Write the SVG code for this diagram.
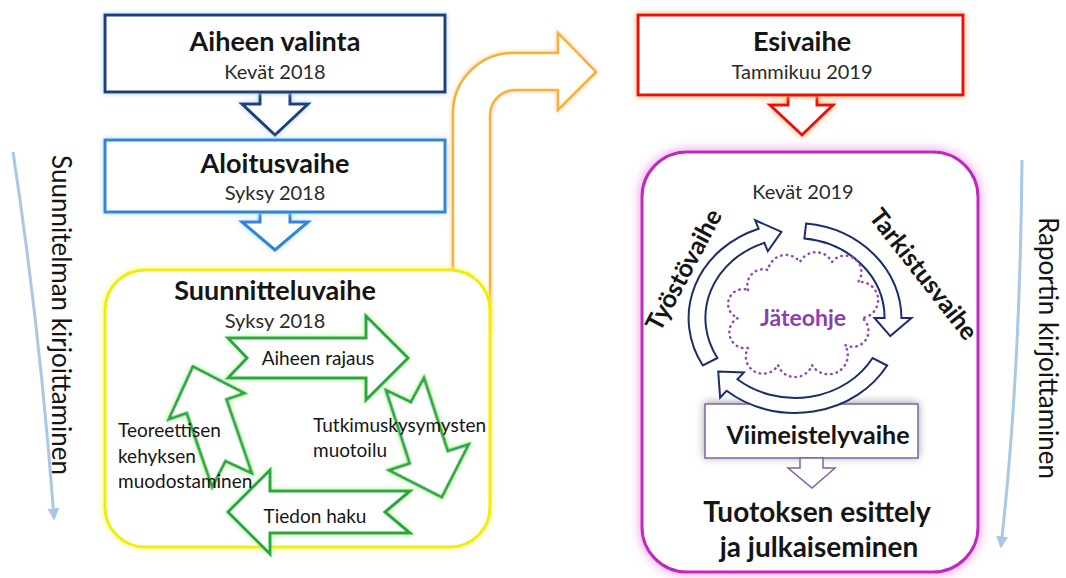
<svg xmlns="http://www.w3.org/2000/svg" width="1066" height="578" viewBox="0 0 1066 578">
<defs>
<style>
text{font-family:Lato,"Liberation Sans",sans-serif;fill:#151515}
.h{font-weight:bold;font-size:27px;text-anchor:middle}
.s{font-size:20px;text-anchor:middle;fill:#2a2a2a}
.g{font-size:19px}
.side{font-size:26px;text-anchor:middle}
.box{fill:#fff;stroke-width:3}
.garr{fill:#fff;stroke:#25a83c;stroke-width:3;stroke-linejoin:miter;filter:url(#glG)}
.carr{fill:#fff;stroke:#1c2d6b;stroke-width:2;vector-effect:non-scaling-stroke}
.blue{fill:none;stroke:#a9c8e6;stroke-width:3}
</style>
<filter id="glNavy" x="-20%" y="-30%" width="140%" height="160%"><feDropShadow dx="0" dy="0" stdDeviation="2.5" flood-color="#a8d0f4" flood-opacity="1"/></filter>
<filter id="glBlue" x="-20%" y="-30%" width="140%" height="160%"><feDropShadow dx="0" dy="0" stdDeviation="2.5" flood-color="#b0d8f8" flood-opacity="1"/></filter>
<filter id="glY" x="-20%" y="-20%" width="140%" height="140%"><feDropShadow dx="0" dy="0" stdDeviation="3" flood-color="#f6f27a" flood-opacity="1"/></filter>
<filter id="glG" x="-30%" y="-30%" width="160%" height="160%"><feDropShadow dx="0" dy="0" stdDeviation="2.5" flood-color="#aef29a" flood-opacity="1"/></filter>
<filter id="glO" x="-30%" y="-20%" width="160%" height="140%"><feDropShadow dx="0" dy="0" stdDeviation="2" flood-color="#f9c2a8" flood-opacity="1"/></filter>
<filter id="glR" x="-20%" y="-30%" width="140%" height="160%"><feDropShadow dx="0" dy="0" stdDeviation="3" flood-color="#f8b070" flood-opacity="1"/></filter>
<filter id="glM" x="-20%" y="-20%" width="140%" height="140%"><feDropShadow dx="0" dy="0" stdDeviation="6" flood-color="#ec8ee4" flood-opacity="1"/></filter>
<filter id="shG" x="-20%" y="-40%" width="140%" height="180%"><feDropShadow dx="0" dy="-1" stdDeviation="4" flood-color="#888" flood-opacity="0.8"/></filter>
<marker id="bh" viewBox="0 0 10 10" refX="8" refY="5" markerWidth="4" markerHeight="4" orient="auto"><path d="M0 0 L10 5 L0 10 Z" fill="#a9c8e6"/></marker>
</defs>

<g id="side-arrows">
<path class="blue" d="M13 152 Q 40 330 54 518" marker-end="url(#bh)"/>
<path class="blue" d="M1022 160 Q 1020 380 1001 546" marker-end="url(#bh)"/>
</g>
<text class="side" transform="translate(52,315) rotate(90)">Suunnitelman kirjoittaminen</text>
<text class="side" transform="translate(1039,348) rotate(90)">Raportin kirjoittaminen</text>

<g id="connectors">
<path id="orange-arrow" d="M453 330 L453 113 A60 60 0 0 1 513 53 L558 53 L558 33 L596 72 L558 110 L558 90 L515 90 A25 25 0 0 0 490 115 L490 330 Z" fill="#fff" stroke="#f6b232" stroke-width="2.5" filter="url(#glO)"/>
<polygon points="260,92 290,92 290,104 308,104 275,135 242,104 260,104" fill="#fff" stroke="#1f3f7a" stroke-width="3" filter="url(#glNavy)"/>
<polygon points="260,212 290,212 290,222 308,222 275,250 242,222 260,222" fill="#fff" stroke="#2e86d6" stroke-width="3" filter="url(#glBlue)"/>
<polygon points="788,95 817,95 817,105 833,105 802,135 770,105 788,105" fill="#fff" stroke="#ee1111" stroke-width="3" filter="url(#glR)"/>
</g>

<g id="aiheen-valinta">
<rect class="box" x="105" y="15" width="340" height="77" stroke="#1f3f7a" filter="url(#glNavy)"/>
<text class="h" x="275" y="51">Aiheen valinta</text>
<text class="s" x="275" y="79">Kevät 2018</text>
</g>

<g id="aloitusvaihe">
<rect class="box" x="105" y="140" width="340" height="72" stroke="#2e86d6" filter="url(#glBlue)"/>
<text class="h" x="275" y="173">Aloitusvaihe</text>
<text class="s" x="275" y="200">Syksy 2018</text>
</g>

<g id="suunnitteluvaihe">
<rect class="box" x="105" y="270" width="385" height="277" rx="40" stroke="#f2ee00" filter="url(#glY)"/>
<text class="h" x="275" y="300">Suunnitteluvaihe</text>
<text class="s" x="275" y="328">Syksy 2018</text>
</g>

<g id="aiheen-rajaus">
<polygon class="garr" transform="translate(228,358)" points="0,-20 138,-20 138,-42 180,0 138,42 138,20 0,20 19,0"/>
<text class="g" x="318" y="365" text-anchor="middle">Aiheen rajaus</text>
</g>
<g id="tutkimuskysymysten">
<polygon class="garr" transform="translate(405,384) rotate(72)" points="0,-20 77,-20 77,-42 119,0 77,42 77,20 0,20 19,0"/>
<text class="g" x="313" y="432">Tutkimuskysymysten</text>
<text class="g" x="313" y="457">muotoilu</text>
</g>
<g id="tiedon-haku">
<polygon class="garr" transform="translate(410,512) rotate(180)" points="0,-21 140,-21 140,-42 182,0 140,42 140,21 0,21 25,0"/>
<text class="g" x="315" y="523" text-anchor="middle">Tiedon haku</text>
</g>
<g id="teoreettisen">
<polygon class="garr" transform="translate(232,480) rotate(-109)" points="0,-21 78,-21 78,-40 120,0 78,40 78,21 0,21 20,0"/>
<text class="g" x="118" y="437">Teoreettisen</text>
<text class="g" x="118" y="463">kehyksen</text>
<text class="g" x="118" y="488">muodostaminen</text>
</g>

<g id="esivaihe">
<rect class="box" x="638" y="15" width="325" height="80" stroke="#ee1111" filter="url(#glR)"/>
<text class="h" x="802" y="51">Esivaihe</text>
<text class="s" x="802" y="79">Tammikuu 2019</text>
</g>

<g id="kevat-2019">
<rect class="box" x="642" y="152" width="336" height="420" rx="45" stroke="#c026c0" filter="url(#glM)"/>
<text class="s" x="803" y="199">Kevät 2019</text>
<text transform="translate(660,333) rotate(-62)" font-weight="bold" font-size="25">Työstövaihe</text>
<text transform="translate(868,217) rotate(52)" font-weight="bold" font-size="25">Tarkistusvaihe</text>
</g>

<g id="viimeistelyvaihe">
<rect x="705" y="404" width="213" height="54" fill="#fff" stroke="#8060a8" stroke-width="1.5" filter="url(#shG)"/>
<polygon points="800,458 823,458 823,468 835,468 812,488 788,468 800,468" fill="#fff" stroke="#8060a8" stroke-width="1.5"/>
<text x="818" y="444" text-anchor="middle" font-weight="bold" font-size="25">Viimeistelyvaihe</text>
</g>

<g id="cycle" transform="translate(795,318) scale(1.12,1)">
<path class="carr" d="M-82.27 47.5 A95 95 0 0 1 -32.49 -89.27 L-35.57 -97.73 L-12.11 -86.16 L-24.28 -66.72 L-27.36 -75.18 A80 80 0 0 0 -69.28 40 Z"/>
<path class="carr" d="M9.93 -94.48 A95 95 0 0 1 95 0 L104 0 L85.09 18.09 L71 0 L80 0 A80 80 0 0 0 8.36 -79.56 Z"/>
<path class="carr" d="M82.27 47.5 A95 95 0 0 1 -61.07 72.77 L-66.85 79.66 L-68.56 53.57 L-45.64 54.39 L-51.42 61.28 A80 80 0 0 0 69.28 40 Z"/>
</g>

<g id="jateohje">
<path d="M748 290 A16 16 0 0 1 768 270 A18 18 0 0 1 800 262 A18 18 0 0 1 832 262 A16 16 0 0 1 858 282 A16 16 0 0 1 862 318 A16 16 0 0 1 845 345 A18 18 0 0 1 812 365 A18 18 0 0 1 778 365 A16 16 0 0 1 748 348 A16 16 0 0 1 738 318 A14 14 0 0 1 748 290 Z" fill="none" stroke="#9048b8" stroke-width="2.5" stroke-dasharray="0.5 5" stroke-linecap="round"/>
<text x="803" y="326" text-anchor="middle" font-weight="bold" font-size="23" style="fill:#8a40b0">Jäteohje</text>
</g>

<g id="tuotoksen">
<text x="817" y="522" text-anchor="middle" font-weight="bold" font-size="28">Tuotoksen esittely</text>
<text x="819" y="557" text-anchor="middle" font-weight="bold" font-size="28">ja julkaiseminen</text>
</g>
</svg>
